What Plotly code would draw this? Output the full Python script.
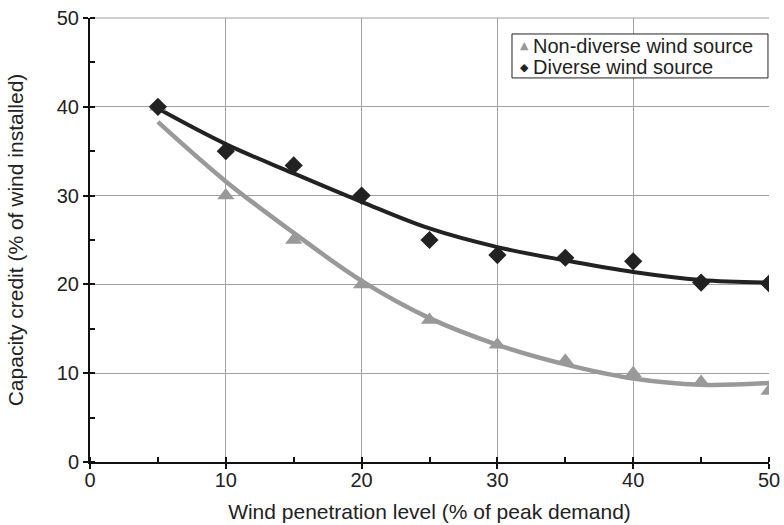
import plotly.graph_objects as go

x_pts = [5, 10, 15, 20, 25, 30, 35, 40, 45, 50]
non_diverse = [40, 30, 25, 20, 16, 13.2, 11.4, 10, 9, 8]
diverse = [40, 35, 33.4, 30, 25, 23.3, 23, 22.6, 20.2, 20.1]

# trend curves
non_diverse_trend = [38.3, 31.6, 25.8, 20.4, 16.2, 13.2, 11.0, 9.4, 8.7, 8.9]
diverse_trend = [39.8, 35.8, 32.5, 29.3, 26.3, 24.2, 22.7, 21.4, 20.5, 20.2]

series_names = ["Non-diverse wind source", "Diverse wind source"]
tick_vals = [0, 10, 20, 30, 40, 50]

GRAY = "#999999"
DARK = "#222222"
FONT = "Liberation Sans, Arial, sans-serif"

fig = go.Figure()
fig.add_trace(go.Scatter(x=x_pts, y=non_diverse_trend, mode="lines",
                         line=dict(color=GRAY, width=4.5, shape="spline"),
                         showlegend=False, hoverinfo="skip"))
fig.add_trace(go.Scatter(x=x_pts, y=diverse_trend, mode="lines",
                         line=dict(color=DARK, width=4, shape="spline"),
                         showlegend=False, hoverinfo="skip"))
fig.add_trace(go.Scatter(x=x_pts, y=non_diverse, mode="markers",
                         name=series_names[0], showlegend=False,
                         marker=dict(symbol="triangle-up", size=15, color=GRAY)))
fig.add_trace(go.Scatter(x=x_pts, y=diverse, mode="markers",
                         name=series_names[1], showlegend=False,
                         marker=dict(symbol="diamond", size=14, color=DARK)))

axis_common = dict(
    showgrid=True, gridcolor="#a0a0a0", gridwidth=1,
    showline=True, linecolor="#111111", linewidth=2,
    ticks="outside", ticklen=5, tickcolor="#111111", tickwidth=1.5,
    zeroline=False, automargin=False,
    tickmode="array", tickvals=tick_vals,
    tickfont=dict(family=FONT, size=20, color="#222222"),
    minor=dict(dtick=5, tick0=0, ticks="inside", ticklen=5, tickcolor="#111111", showgrid=False),
)

fig.update_xaxes(range=[0, 50],
                 ticklabelstandoff=-6,
                 title=dict(text="Wind penetration level (% of peak demand)",
                            font=dict(family=FONT, size=21, color="#222222"),
                            standoff=14),
                 **axis_common)
fig.update_yaxes(range=[0, 50],
                 title=dict(text="Capacity credit (% of wind installed)",
                            font=dict(family=FONT, size=21, color="#222222"),
                            standoff=27),
                 **axis_common)

# top grid line at the edge of the plot area
fig.add_shape(type="line", xref="paper", yref="paper", x0=0, x1=1, y0=1, y1=1,
              line=dict(color="#a0a0a0", width=1), layer="below")

# manual legend (box + symbols + labels)
fig.add_shape(type="rect", xref="paper", yref="paper",
              x0=0.6215, x1=0.9985, y0=0.865, y1=0.964,
              line=dict(color="#222222", width=1), fillcolor="white", layer="above")
legend_rows = [(series_names[0], "▲", GRAY, 0.938), (series_names[1], "◆", DARK, 0.889)]
for name, sym, col, yy in legend_rows:
    fig.add_annotation(xref="paper", yref="paper", x=0.6400, y=yy, text=sym,
                       showarrow=False, xanchor="center", yanchor="middle",
                       font=dict(family="DejaVu Sans", size=11, color=col))
    fig.add_annotation(xref="paper", yref="paper", x=0.6495, y=yy, text=name,
                       showarrow=False, xanchor="left", yanchor="middle",
                       font=dict(family=FONT, size=20, color="#222222"))

fig.update_layout(
    width=784, height=525,
    margin=dict(l=90, r=15, t=18, b=63),
    plot_bgcolor="white", paper_bgcolor="white",
    font=dict(family=FONT, size=20, color="#222222"),
    showlegend=False,
)

fig.write_html("out.html", config={"displayModeBar": False},
               post_script="document.body.style.margin='0';document.body.style.overflow='hidden';")
